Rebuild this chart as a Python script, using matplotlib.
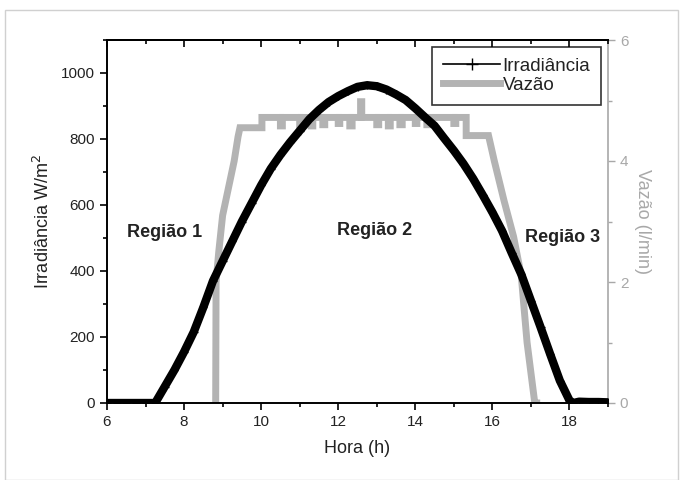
import matplotlib
matplotlib.use("Agg")
import matplotlib.pyplot as plt
from matplotlib.lines import Line2D
from matplotlib.patches import Rectangle
from matplotlib.ticker import MultipleLocator, NullFormatter

plt.rcParams['font.family'] = ['Liberation Sans', 'DejaVu Sans']

# Irradiance (W/m2) vs hour
irr_h = [6.0, 6.25, 6.5, 6.75, 7.0, 7.25, 7.5, 7.75, 8.0, 8.25, 8.5, 8.75, 9.0, 9.25,
         9.5, 9.75, 10.0, 10.25, 10.5, 10.75, 11.0, 11.25, 11.5, 11.75, 12.0, 12.25,
         12.5, 12.75, 13.0, 13.25, 13.5, 13.75, 14.0, 14.25, 14.5, 14.75, 15.0, 15.25,
         15.5, 15.75, 16.0, 16.25, 16.5, 16.75, 17.0, 17.25, 17.5, 17.75, 18.0, 18.1,
         18.25, 18.5, 18.75, 19.0]
irr_v = [0, 0, 0, 0, 0, 0, 50, 100, 155, 215, 290, 370, 430, 490,
         550, 605, 660, 710, 752, 790, 825, 860, 888, 912, 930, 945,
         958, 963, 960, 950, 935, 918, 893, 866, 840, 802, 765, 725,
         680, 630, 578, 522, 455, 390, 310, 230, 148, 68, 8, 0,
         4, 3, 3, 2]

# Flow (l/min) vs hour (polyline vertices, vertical jumps given as repeated hours)
vaz_h = [8.82, 8.83, 8.9, 9.0, 9.1, 9.2, 9.3, 9.4, 9.45,
         10.02, 10.02,
         10.5, 10.5, 10.55, 10.55,
         11.0, 11.0, 11.05, 11.05,
         11.3, 11.3, 11.34, 11.34,
         11.6, 11.6, 11.65, 11.65,
         12.0, 12.0, 12.04, 12.04,
         12.3, 12.3, 12.36, 12.36,
         12.58, 12.58, 12.61, 12.61,
         13.0, 13.0, 13.05, 13.05,
         13.3, 13.3, 13.35, 13.35,
         13.6, 13.6, 13.66, 13.66,
         14.0, 14.0, 14.04, 14.04,
         14.3, 14.3, 14.35, 14.35,
         15.0, 15.0, 15.05, 15.05,
         15.32, 15.32, 15.9,
         16.05, 16.3, 16.55, 16.75, 16.9, 17.1, 17.15]
vaz_v = [0.0, 2.0, 2.5, 3.1, 3.4, 3.7, 4.0, 4.4, 4.55,
         4.55, 4.72,
         4.72, 4.58, 4.58, 4.72,
         4.72, 4.6, 4.6, 4.72,
         4.72, 4.58, 4.58, 4.72,
         4.72, 4.6, 4.6, 4.72,
         4.72, 4.62, 4.62, 4.72,
         4.72, 4.58, 4.58, 4.72,
         4.72, 4.98, 4.98, 4.72,
         4.72, 4.6, 4.6, 4.72,
         4.72, 4.58, 4.58, 4.72,
         4.72, 4.6, 4.6, 4.72,
         4.72, 4.62, 4.62, 4.72,
         4.72, 4.6, 4.6, 4.72,
         4.72, 4.62, 4.62, 4.72,
         4.72, 4.42, 4.42,
         4.0, 3.35, 2.75, 2.1, 1.0, 0.0, 0.0]

regions = ["Região 1", "Região 2", "Região 3"]
region_h = [7.5, 12.93, 17.83]
region_v = [517, 524, 502]

gray = "#b3b3b3"
axgray = "#a8a8a8"
txt = "#222222"

fig = plt.figure(figsize=(6.81, 4.80), dpi=100)
fig.patches.append(Rectangle((5/681, 0), 673/681, 1 - 10/480, transform=fig.transFigure,
                             fill=False, edgecolor="#d0d0d0", lw=1.0))
ax = fig.add_axes([107/681, 77/480, 501/681, 363/480])
ax2 = ax.twinx()
ax.set_zorder(ax2.get_zorder() + 1)
ax.patch.set_visible(False)

ax2.plot(vaz_h, vaz_v, color=gray, lw=5, solid_joinstyle="miter")
ax.plot(irr_h, irr_v, color="black", lw=6, solid_capstyle="butt")
ax.plot(irr_h, irr_v, color="black", lw=0, marker="+", ms=6, mew=1)

ax.set_xlim(6, 19)
ax.set_ylim(0, 1100)
ax2.set_ylim(0, 6)

ax.xaxis.set_major_locator(MultipleLocator(2))
ax.xaxis.set_minor_locator(MultipleLocator(1))
ax.yaxis.set_major_locator(MultipleLocator(200))
ax.yaxis.set_minor_locator(MultipleLocator(100))
ax2.yaxis.set_major_locator(MultipleLocator(2))
ax2.yaxis.set_minor_locator(MultipleLocator(1))

ax.tick_params(axis="both", which="both", direction="out", labelsize=11, width=1.2,
               labelcolor=txt)
ax.tick_params(axis="both", which="major", length=5)
ax.tick_params(axis="both", which="minor", length=3)

top = ax.secondary_xaxis("top")
top.xaxis.set_major_locator(MultipleLocator(2))
top.xaxis.set_minor_locator(MultipleLocator(1))
top.xaxis.set_major_formatter(NullFormatter())
top.tick_params(axis="x", which="both", direction="in", width=1.2)
top.tick_params(axis="x", which="major", length=5)
top.tick_params(axis="x", which="minor", length=3)
top.spines["top"].set_linewidth(1.4)

for sp in ["left", "bottom", "top"]:
    ax.spines[sp].set_linewidth(1.4)
ax.spines["right"].set_visible(False)
ax2.spines["left"].set_visible(False)
ax2.spines["top"].set_visible(False)
ax2.spines["bottom"].set_visible(False)
ax2.spines["right"].set_color(axgray)
ax2.spines["right"].set_linewidth(1.2)
ax2.tick_params(axis="y", which="both", direction="out", colors=axgray, labelsize=11, width=1.0)
ax2.tick_params(axis="y", which="major", length=5)
ax2.tick_params(axis="y", which="minor", length=3)

ax.set_xlabel("Hora (h)", fontsize=13, labelpad=8, color=txt)
ax.set_ylabel("Irradiância W/m$^2$", fontsize=13, labelpad=6, color=txt)
ax2.set_ylabel("Vazão (l/min)", fontsize=13, color=axgray, rotation=270, labelpad=16)

for t, h, v in zip(regions, region_h, region_v):
    ax.text(h, v, t, fontsize=13, fontweight="bold", ha="center", va="center", color=txt)

handles = [Line2D([], [], color="black", lw=1.2, marker="+", ms=9, markevery=[1]),
           Line2D([], [], color=gray, lw=5)]
leg = ax.legend(handles, ["Irradiância", "Vazão"], loc="upper right", fontsize=13.5,
                frameon=True, fancybox=False, handlelength=3.0, handletextpad=0.15,
                borderaxespad=0.35, labelspacing=0.1, borderpad=0.6)
leg.get_frame().set_edgecolor("black")
leg.get_frame().set_linewidth(1.2)
for t in leg.get_texts():
    t.set_color(txt)

fig.savefig("out.png", dpi=100)
